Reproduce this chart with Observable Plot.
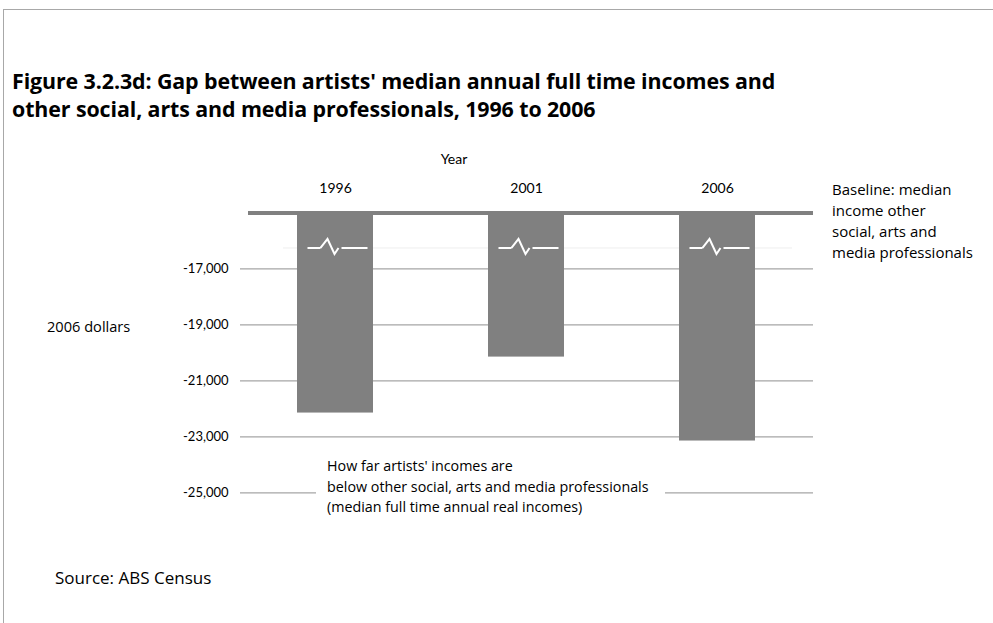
<!DOCTYPE html>
<html>
<head>
<meta charset="utf-8">
<script src="https://cdn.jsdelivr.net/npm/d3@7"></script>
<script src="https://cdn.jsdelivr.net/npm/@observablehq/plot@0.6"></script>
<style>
  html, body { margin: 0; padding: 0; background: #fff; }
  #wrap { position: relative; width: 993px; height: 623px; overflow: hidden; font-family: "Open Sans", Lato, sans-serif; color: #000; }
  #frame { position: absolute; left: 3px; top: 9px; width: 1000px; height: 700px; border-left: 1px solid #a8a8a8; border-top: 1px solid #a8a8a8; }
  #title { position: absolute; left: 12px; top: 67px; font-weight: bold; font-size: 21.4px; line-height: 28px; white-space: nowrap; letter-spacing: -0.1px; }
  #chart { position: absolute; left: 0; top: 0; }
  .note { position: absolute; font-size: 14px; white-space: nowrap; }
  #yearLbl { left: 454px; top: 150px; transform: translateX(-50%); font-family: Lato, sans-serif; }
  #unitLbl { left: 47px; top: 316px; font-size: 14.6px; }
  #baseNote { left: 832px; top: 179px; line-height: 21px; font-size: 15px; }
  #gapNote { left: 316px; top: 456px; padding-left: 11px; width: 338px; line-height: 20.5px; font-size: 14.3px; background: #fff; }
  #source { left: 55px; top: 566px; font-size: 17px; }
</style>
</head>
<body>
<div id="wrap">
  <div id="frame"></div>
  <div id="title">Figure 3.2.3d: Gap between artists' median annual full time incomes and<br>other social, arts and media professionals, 1996 to 2006</div>
  <div id="chart"></div>
  <div class="note" id="yearLbl">Year</div>
  <div class="note" id="unitLbl">2006 dollars</div>
  <div class="note" id="baseNote">Baseline: median<br>income other<br>social, arts and<br>media professionals</div>
  <div class="note" id="gapNote">How far artists' incomes are<br>below other social, arts and media professionals<br>(median full time annual real incomes)</div>
  <div class="note" id="source">Source: ABS Census</div>
</div>
<script>
// ---- data ----
const years = ["1996", "2001", "2006"];
const gapValues = [-22150, -20150, -23150];
const baselineValue = -15000;
const yTicks = [-17000, -19000, -21000, -23000, -25000];
const yDomain = [-25000, -15000];
const breakValue = -16250;

const data = years.map((year, i) => ({ year, value: gapValues[i] }));

const fmt = d => (d < 0 ? "-" : "") + Math.abs(d).toLocaleString("en-US");

// axis-break glyph (white segments with a zigzag)
const breakSymbol = {
  draw(ctx) {
    ctx.moveTo(-28, 0); ctx.lineTo(-15, 0);
    ctx.moveTo(-15, 0); ctx.lineTo(-8, -9); ctx.lineTo(-1, 6); ctx.lineTo(3, 0);
    ctx.moveTo(6, 0); ctx.lineTo(32, 0);
  }
};

const plot = Plot.plot({
  width: 993,
  height: 623,
  marginLeft: 240,
  marginRight: 180,
  marginTop: 212.5,
  marginBottom: 130.7,
  style: { fontFamily: 'Lato, "Liberation Sans", sans-serif', fontSize: "14px", color: "#000", background: "transparent", overflow: "visible" },
  x: { domain: years, paddingInner: 0.6, paddingOuter: 0.3 },
  y: { domain: yDomain },
  marks: [
    Plot.ruleY(yTicks, { stroke: "#a6a6a6", strokeWidth: 1.2 }),
    Plot.ruleY([breakValue], { stroke: "#eeeeee", strokeWidth: 1, insetLeft: 43, insetRight: 21 }),
    Plot.barY(data, { x: "year", y1: baselineValue, y2: "value", fill: "#808080" }),
    Plot.dot(data, { x: "year", y: breakValue, symbol: breakSymbol, stroke: "#ffffff", strokeWidth: 2, fill: "none", r: 1 }),
    Plot.ruleY([baselineValue], { stroke: "#808080", strokeWidth: 4, insetLeft: 8 }),
    Plot.axisX({ anchor: "top", tickSize: 0, tickPadding: 20, label: null, fontSize: 14 }),
    Plot.axisY(yTicks, { anchor: "left", tickSize: 0, tickPadding: 12, tickFormat: fmt, label: null, fontSize: 13 })
  ]
});
document.getElementById("chart").appendChild(plot);
</script>
</body>
</html>
